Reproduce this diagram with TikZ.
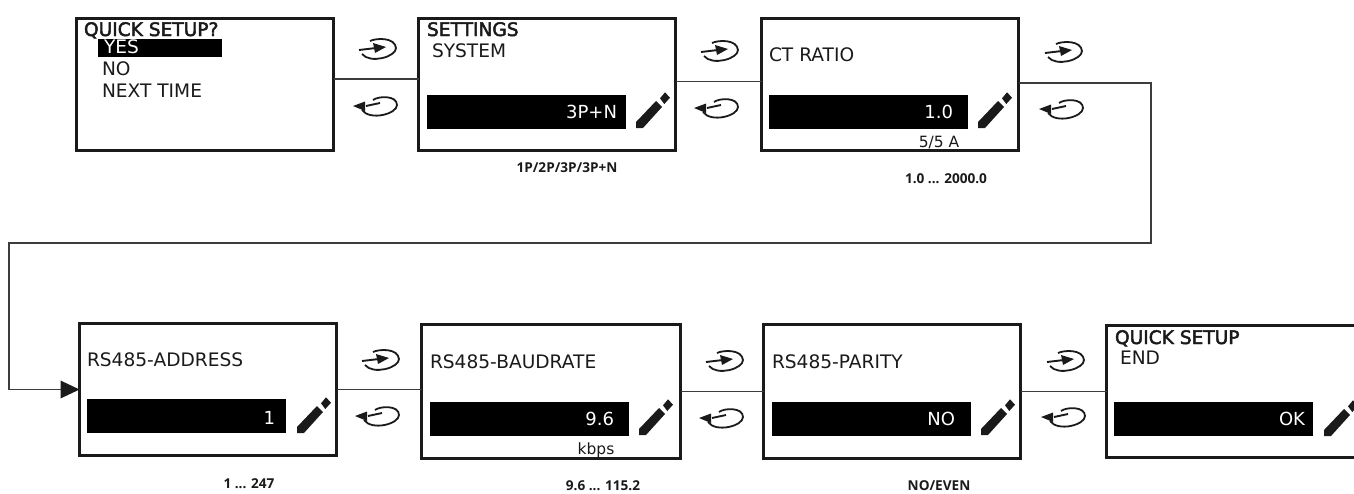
\documentclass[tikz,border=0pt]{standalone}
\usepackage{fontspec}
\setmainfont{DejaVu Sans}
\newfontfamily\titlefont[FakeBold=2.5]{DejaVu Sans}
\newfontfamily\capfont{Open Sans}
\usetikzlibrary{arrows.meta}
\definecolor{ink}{HTML}{1A1A1A}
\tikzset{
    every node/.style = {
        inner sep = 0pt,
        outer sep = 0pt,
        text = ink
    },
    screen/.style = {
        anchor = north west,
        draw = ink,
        line width = 3pt,
        minimum width = 257pt,
        minimum height = 132pt
    },
    bar/.style = {
        anchor = north west,
        fill = black,
        minimum width = 199pt,
        minimum height = 34pt
    },
    heading/.style = {
        anchor = base west,
        font = \titlefont\fontsize{18.6}{20}\selectfont
    },
    entry/.style = {
        anchor = base west,
        font = \fontsize{18.6}{20}\selectfont
    },
    reading/.style = {
        anchor = base east,
        text = white,
        font = \fontsize{18}{20}\selectfont
    },
    unitnote/.style = {
        anchor = base,
        font = \fontsize{15.5}{18}\selectfont
    },
    rangenote/.style = {
        anchor = base,
        font = \capfont\bfseries\fontsize{13.6}{15}\selectfont
    },
    link/.style = {
        draw = ink!85,
        line width = 1.5pt
    },
    pencil/.pic = {
        \fill [ink] (0,0) -- (0,6) -- (20,27) -- (26,21) -- (7,0) -- cycle;
        \fill [ink] (24,29.7) -- (29,35.7) -- (34,30.3) -- (28.3,24) -- cycle;
    },
    enter/.pic = {
        \draw [ink, line width = 1.8pt] (-8,8) .. controls (-2,11) and (17,12) .. (18,1)
            .. controls (18,-8) and (-8,-15) .. (-16,-5);
        \draw [ink, line width = 1.9pt] (-19,-1) -- (-2,1);
        \fill [ink] (-5,6) -- (8,2) -- (-3,-4) -- cycle;
    },
    back/.pic = {
        \draw [ink, line width = 1.8pt] (-5,6) .. controls (0,10) and (19,11) .. (19,1)
            .. controls (19,-8) and (-8,-15) .. (-16,-4);
        \draw [ink, line width = 1.9pt] (2,3) -- (-12,0);
        \fill [ink] (-25,0) -- (-13,4.5) -- (-13,-5) -- cycle;
    }
}
\begin{document}
\begin{tikzpicture}[x = 1pt, y = 1pt]
    \clip (0,0) rectangle (1354,-493);
    \useasboundingbox (0,0) rectangle (1354,-493);
    % top row
    \node (scr1) [screen] at (76.5,-18.5) {};
    \node (scr2) [screen] at (418.5,-18.5) {};
    \node (scr3) [screen] at (761.5,-18.5) {};
    \node (yesbar) [bar, minimum width = 124pt, minimum height = 18pt] at (98,-39) {};
    \node (bar2) [bar] at (427,-95) {};
    \node (bar3) [bar] at (769,-95) {};
    \node (head1) [heading] at (84,-36) {QUICK SETUP?};
    \node (yes) [entry, text = white] at (104,-53) {YES};
    \node (no) [entry] at (102,-75) {NO};
    \node (next) [entry] at (102,-97) {NEXT TIME};
    \node (head2) [heading] at (427,-36) {SETTINGS};
    \node (sys) [entry] at (432,-57) {SYSTEM};
    \node (ct) [entry] at (769,-61) {CT RATIO};
    \node (val2) [reading] at (617,-118) {3P+N};
    \node (val3) [reading] at (953,-118) {1.0};
    \node (unit3) [unitnote] at (939,-147) {5/5 A};
    \node (range2) [rangenote] at (567,-172) {1P/2P/3P/3P+N};
    \node (range3) [rangenote] at (946,-183) {1.0 ... 2000.0};
    % bottom row
    \node (scr4) [screen] at (79.5,-323.5) {};
    \node (scr5) [screen, minimum width = 259pt, minimum height = 134pt] at (421.5,-324.5) {};
    \node (scr6) [screen, minimum height = 134pt] at (763.5,-324.5) {};
    \node (scr7) [screen] at (1106.5,-325.5) {};
    \node (bar4) [bar] at (87,-399) {};
    \node (bar5) [bar] at (430,-402) {};
    \node (bar6) [bar] at (772,-402) {};
    \node (bar7) [bar] at (1114,-402) {};
    \node (addr) [entry] at (87,-366) {RS485-ADDRESS};
    \node (baud) [entry] at (430,-368) {RS485-BAUDRATE};
    \node (parity) [entry] at (772,-368) {RS485-PARITY};
    \node (head7) [heading] at (1115,-344) {QUICK SETUP};
    \node (end) [entry] at (1120,-364) {END};
    \node (val4) [reading] at (275,-424) {1};
    \node (val5) [reading] at (614,-425) {9.6};
    \node (val6) [reading] at (955,-425) {NO};
    \node (val7) [reading] at (1305,-425) {OK};
    \node (unit5) [unitnote] at (596,-454) {kbps};
    \node (range4) [rangenote] at (249,-488) {1 ... 247};
    \node (range5) [rangenote] at (603,-490) {9.6 ... 115.2};
    \node (range6) [rangenote] at (939,-490) {NO/EVEN};
    % connectors
    \coordinate (turnA) at (1151,-243);
    \coordinate (turnB) at (9,-243);
    \draw [link] ([yshift=5.5pt]scr1.east) -- ([yshift=5.5pt]scr2.west);
    \draw [link] ([yshift=3pt]scr2.east) -- ([yshift=3pt]scr3.west);
    \draw [link] ([yshift=1.5pt]scr3.east) -| (turnA) -- (turnB) |- (scr4.west);
    \fill [ink] (scr4.west) -- +(-19,9) -- +(-19,-9) -- cycle;
    \draw [link] (scr4.east) -- (scr4.east -| scr5.west);
    \draw [link] (scr5.east) -- (scr6.west);
    \draw [link] (scr6.east) -- (scr6.east -| scr7.west);
    % icons
    \foreach \px/\py in {636/-128, 978/-128, 297/-433, 639/-435, 981/-435, 1324/-436}
        \pic at (\px,\py) {pencil};
    \foreach \px/\py in {378/-49, 720/-51, 1064/-52, 381/-360, 725/-361, 1066/-361}
        \pic at (\px,\py) {enter};
    \foreach \px/\py in {378/-106, 719/-108, 1064/-109, 380/-416, 724/-418, 1066/-417}
        \pic at (\px,\py) {back};
\end{tikzpicture}
\end{document}
